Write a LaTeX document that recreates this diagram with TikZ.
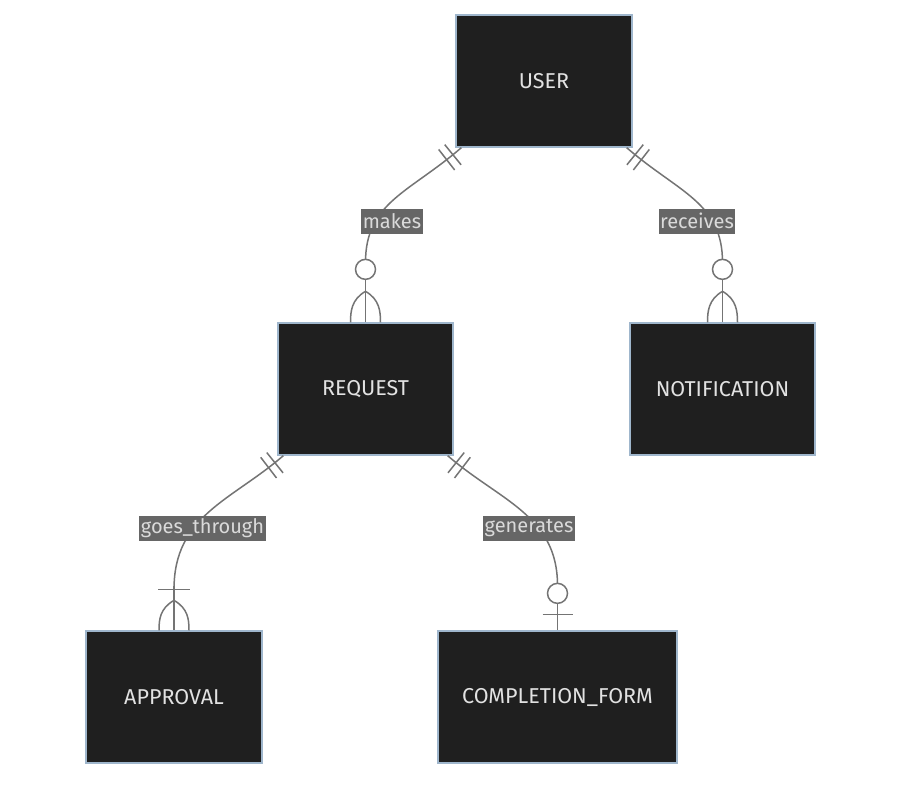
\documentclass[tikz,border=0pt]{standalone}
\usepackage{fontspec}
\setmainfont{Fira Sans}
\usetikzlibrary{calc,decorations.markings}
\definecolor{boxfill}{HTML}{1F1F1F}
\definecolor{boxline}{HTML}{9FB6CC}
\definecolor{boxtext}{HTML}{E2E2E2}
\definecolor{edge}{HTML}{747474}
\definecolor{lblbg}{HTML}{666666}
\definecolor{lbltext}{HTML}{DADADA}
\tikzset{
  entity/.style={draw=boxline, fill=boxfill, line width=1.3pt, text=boxtext,
    inner sep=0pt, minimum height=132pt, font=\fontsize{21.5}{24}\selectfont},
  rel/.style={draw=edge, line width=1.5pt},
  lbl/.style={fill=lblbg, text=lbltext, inner xsep=1.5pt, inner ysep=0pt,
    minimum height=25pt, font=\fontsize{20}{22}\selectfont},
  twobars/.style={postaction={decorate}, decoration={markings,
     mark=at position 11pt with {\draw[rel] (0,-13) -- (0,13);},
     mark=at position 19pt with {\draw[rel] (0,-13) -- (0,13);}}},
  zcirc/.style={rel, fill=white},
}
\begin{document}
\begin{tikzpicture}[x=1pt,y=-1pt]
\useasboundingbox (0,0) rectangle (899,785);
\fill[white] (0,0) rectangle (899,785);

\node[entity, minimum width=176pt] (user) at (544,81) {USER};
\node[entity, minimum width=175pt] (request) at (365.5,389) {REQUEST};
\node[entity, minimum width=185pt] (notif) at (722.5,389) {NOTIFICATION};
\node[entity, minimum width=176pt] (approval) at (174,697) {APPROVAL};
\node[entity, minimum width=239pt] (compl) at (557.5,697) {COMPLETION\_FORM};

% makes
\coordinate (m0) at ($(user.south west)+(6,0)$);
\coordinate (m1) at (request.north);
\draw[rel, twobars] (m0) .. controls ($(m0)+(-52,45)$) and ($(m1)+(0,-120)$) .. ($(m1)+(0,-60)$);
\draw[rel] ($(m1)+(0,-31)$) .. controls ($(m1)+(-14,-23)$) and ($(m1)+(-15,-11)$) .. ($(m1)+(-15,0)$);
\draw[rel] ($(m1)+(0,-31)$) .. controls ($(m1)+(14,-23)$) and ($(m1)+(15,-11)$) .. ($(m1)+(15,0)$);
\draw[rel] ($(m1)+(0,-42)$) -- (m1);
\draw[zcirc] ($(m1)+(0,-53)$) circle[radius=10pt];
\node[lbl] (lmakes) at (392,221) {makes};

% receives
\coordinate (r0) at ($(user.south east)+(-6,0)$);
\coordinate (r1) at (notif.north);
\draw[rel, twobars] (r0) .. controls ($(r0)+(52,45)$) and ($(r1)+(0,-120)$) .. ($(r1)+(0,-60)$);
\draw[rel] ($(r1)+(0,-31)$) .. controls ($(r1)+(-14,-23)$) and ($(r1)+(-15,-11)$) .. ($(r1)+(-15,0)$);
\draw[rel] ($(r1)+(0,-31)$) .. controls ($(r1)+(14,-23)$) and ($(r1)+(15,-11)$) .. ($(r1)+(15,0)$);
\draw[rel] ($(r1)+(0,-42)$) -- (r1);
\draw[zcirc] ($(r1)+(0,-53)$) circle[radius=10pt];
\node[lbl] (lreceives) at (697,221) {receives};

% goes_through
\coordinate (g0) at ($(request.south west)+(6,0)$);
\coordinate (g1) at (approval.north);
\draw[rel, twobars] (g0) .. controls ($(g0)+(-52,45)$) and ($(g1)+(0,-115)$) .. ($(g1)+(0,-41)$);
\draw[rel] ($(g1)+(0,-30)$) .. controls ($(g1)+(-14,-22)$) and ($(g1)+(-15,-11)$) .. ($(g1)+(-15,0)$);
\draw[rel] ($(g1)+(0,-30)$) .. controls ($(g1)+(14,-22)$) and ($(g1)+(15,-11)$) .. ($(g1)+(15,0)$);
\draw[rel] ($(g1)+(0,-44)$) -- (g1);
\draw[rel] ($(g1)+(-16,-41)$) -- ($(g1)+(16,-41)$);
\node[lbl] (lgoes) at (202.5,528) {goes\_through};

% generates
\coordinate (n0) at ($(request.south east)+(-6,0)$);
\coordinate (n1) at (compl.north);
\draw[rel, twobars] (n0) .. controls ($(n0)+(52,45)$) and ($(n1)+(0,-115)$) .. ($(n1)+(0,-45)$);
\draw[rel] ($(n1)+(0,-27)$) -- (n1);
\draw[rel] ($(n1)+(-15,-16)$) -- ($(n1)+(15,-16)$);
\draw[zcirc] ($(n1)+(0,-37)$) circle[radius=10pt];
\node[lbl] (lgen) at (529,528) {generates};
\end{tikzpicture}
\end{document}
